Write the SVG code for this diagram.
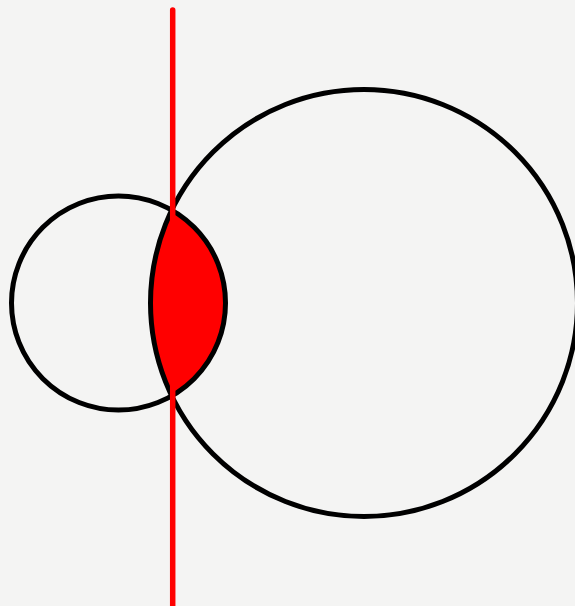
<svg xmlns="http://www.w3.org/2000/svg" width="575" height="606" viewBox="0 0 575 606">
  <style>
    .circ { fill: none; stroke: #000; stroke-width: 5; }
    .lens { fill: #ff0000; stroke: none; }
    .line { stroke: #ff0000; stroke-width: 5.5; fill: none; stroke-linecap: round; }
  </style>
  <rect width="575" height="606" fill="#f4f4f3"/>
  <g id="lens">
    <path class="lens" d="M 172.3 210.6 A 213.5 213.5 0 0 0 172.3 395.4 A 107 107 0 0 0 172.3 210.6 Z"/>
  </g>
  <g id="small-circle">
    <circle class="circ" cx="118.5" cy="303" r="107"/>
  </g>
  <g id="large-circle">
    <circle class="circ" cx="364" cy="303" r="213.5"/>
  </g>
  <g id="connectors">
    <line class="line" x1="172.7" y1="10" x2="172.7" y2="610"/>
  </g>
</svg>
